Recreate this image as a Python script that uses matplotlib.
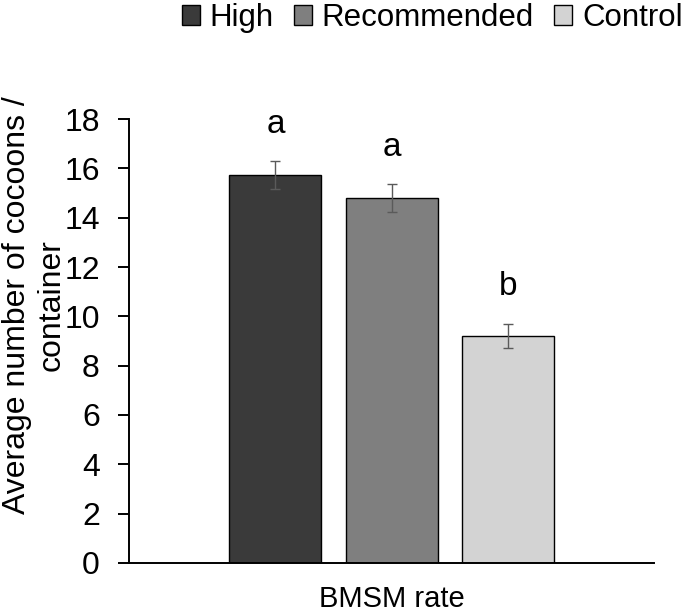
import matplotlib
matplotlib.use("Agg")
import matplotlib.pyplot as plt

# 数据
groups = ["High", "Recommended", "Control"]
means = [15.74, 14.80, 9.20]
errors = [0.56, 0.55, 0.50]
letters = ["a", "a", "b"]
colors = ["#3a3a3a", "#7f7f7f", "#d3d3d3"]
positions = [-1, 0, 1]

plt.rcParams["font.family"] = ["Liberation Sans", "DejaVu Sans"]

fig = plt.figure(figsize=(6.85, 6.13), dpi=100)
ax = fig.add_axes([129 / 685, 50 / 613, 525 / 685, 444 / 613])

for pos, m, e, c, g, l in zip(positions, means, errors, colors, groups, letters):
    ax.bar(pos, m, width=0.79, color=c, edgecolor="black", linewidth=1.0, label=g)
    ax.errorbar(pos, m, yerr=e, fmt="none", ecolor="#5a5a5a", elinewidth=1.0,
                capsize=3.3, capthick=1.0)
    ax.text(pos, m + e + 1.15, l, ha="center", va="baseline", fontsize=24)

ax.set_ylim(0, 18)
ax.set_xlim(-2.257, 2.249)
ax.set_yticks(range(0, 19, 2))
ax.set_xticks([])
ax.tick_params(axis="y", labelsize=23, length=8, width=1.4, direction="out", pad=13)
ax.spines["top"].set_visible(False)
ax.spines["right"].set_visible(False)
ax.spines["left"].set_linewidth(1.4)
ax.spines["bottom"].set_linewidth(1.4)

ax.set_ylabel("Average number of cocoons /\ncontainer", fontsize=23, linespacing=1.2)
ax.yaxis.set_label_coords(-0.118, 0.58)

# x轴标题
fig.text(391.5 / 685, 6 / 613, "BMSM rate", ha="center", va="baseline", fontsize=21)

fig.legend(loc="upper right", bbox_to_anchor=(686 / 685, 1.0), ncol=3, frameon=False,
           fontsize=22.5, handlelength=0.58, handleheight=0.58, handletextpad=0.32,
           columnspacing=0.64, borderaxespad=0.0, borderpad=0.1)

fig.savefig("out.png", dpi=100)
